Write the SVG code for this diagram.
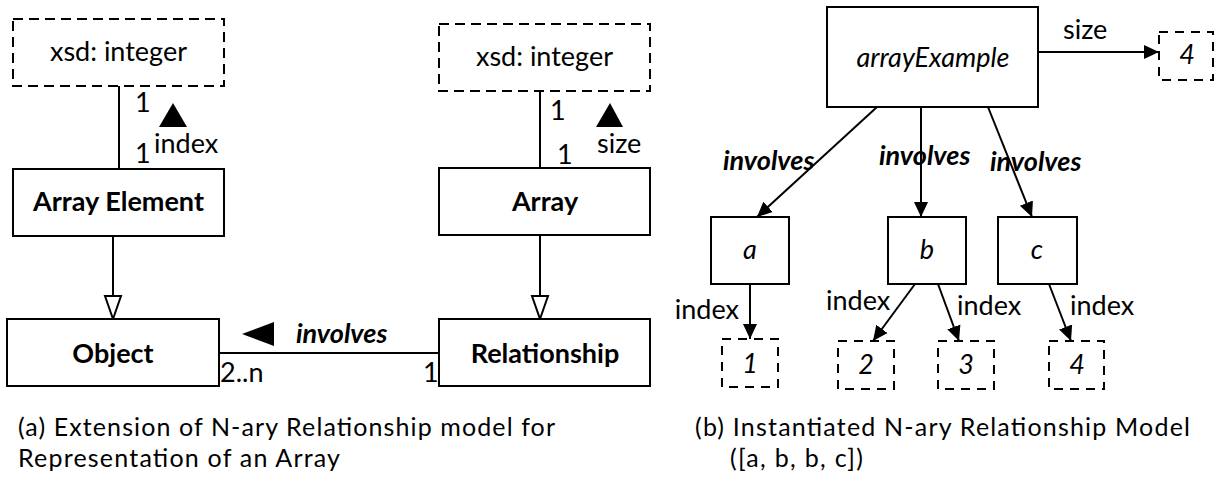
<svg xmlns="http://www.w3.org/2000/svg" width="1215" height="478" viewBox="0 0 1215 478">
<style>
text{font-family:Lato,"Open Sans","Liberation Sans",sans-serif;font-size:27px;fill:#000}
.c{text-anchor:middle}
.b{font-weight:bold}
.i{font-style:italic}
.cap{font-size:25px}
.box{fill:#fff;stroke:#000;stroke-width:2}
.dash{fill:#fff;stroke:#000;stroke-width:2;stroke-dasharray:10 6}
.sdash{fill:#fff;stroke:#000;stroke-width:2;stroke-dasharray:9 7}
.ln{fill:none;stroke:#000;stroke-width:2}
.arr{fill:none;stroke:#000;stroke-width:2;marker-end:url(#ah)}
.gen{fill:none;stroke:#000;stroke-width:2;marker-end:url(#hollow)}
</style>
<defs>
<marker id="ah" markerUnits="userSpaceOnUse" markerWidth="16" markerHeight="16" viewBox="0 0 16 16" refX="15" refY="8" orient="auto">
<path d="M0,1 L15,8 L0,15 z" fill="#000"/>
</marker>
<marker id="hollow" markerUnits="userSpaceOnUse" markerWidth="26" markerHeight="20" viewBox="0 0 26 20" refX="24" refY="10" orient="auto">
<path d="M1,2 L24,10 L1,18 z" fill="#fff" stroke="#000" stroke-width="2"/>
</marker>
</defs>

<g id="connectors">
<line class="ln" x1="119" y1="86" x2="119" y2="169"/>
<line class="gen" x1="113" y1="236" x2="113" y2="319"/>
<line class="ln" x1="219" y1="353" x2="439" y2="353"/>
<line class="ln" x1="540" y1="91" x2="540" y2="168"/>
<line class="gen" x1="540" y1="235" x2="540" y2="319"/>
<line class="arr" x1="1038" y1="52" x2="1159" y2="52"/>
<line class="arr" x1="877" y1="107" x2="757" y2="217"/>
<line class="arr" x1="921" y1="107" x2="921" y2="217"/>
<line class="arr" x1="988" y1="107" x2="1032" y2="217"/>
<line class="arr" x1="750" y1="284" x2="750" y2="339"/>
<line class="arr" x1="915" y1="284" x2="873" y2="341"/>
<line class="arr" x1="938" y1="284" x2="959" y2="341"/>
<line class="arr" x1="1049" y1="284" x2="1071" y2="341"/>
<polygon points="159,127 187,127 173,103" fill="#000"/>
<polygon points="596,127 623,127 610,103" fill="#000"/>
<polygon points="242,334 274,322 274,346" fill="#000"/>
<text x="135" y="112">1</text>
<text x="135" y="163">1</text>
<text x="154" y="153">index</text>
<text x="550" y="120">1</text>
<text x="557" y="164">1</text>
<text x="597" y="153">size</text>
<text x="296" y="343" class="b i">involves</text>
<text x="220" y="382">2..n</text>
<text x="423" y="382">1</text>
<text x="1063" y="39">size</text>
<text x="723" y="170" class="b i">involves</text>
<text x="879" y="165" class="b i">involves</text>
<text x="990" y="171" class="b i">involves</text>
<text x="739" y="319" text-anchor="end">index</text>
<text x="826" y="310">index</text>
<text x="957" y="315">index</text>
<text x="1070" y="315">index</text>
</g>

<g id="xsd-integer-left">
<rect class="dash" x="13" y="19" width="211" height="67"/>
<text x="118.5" y="61" class="c">xsd: integer</text>
</g>
<g id="array-element">
<rect class="box" x="13" y="169" width="211" height="67"/>
<text x="118.5" y="211" class="c b">Array Element</text>
</g>
<g id="object">
<rect class="box" x="7" y="319" width="212" height="67"/>
<text x="113" y="363" class="c b">Object</text>
</g>
<g id="xsd-integer-right">
<rect class="dash" x="439" y="24" width="211" height="67"/>
<text x="544.5" y="66" class="c">xsd: integer</text>
</g>
<g id="array">
<rect class="box" x="439" y="168" width="211" height="67"/>
<text x="545" y="211" class="c b">Array</text>
</g>
<g id="relationship">
<rect class="box" x="439" y="319" width="211" height="67"/>
<text x="545" y="363" class="c b">Relationship</text>
</g>

<g id="arrayExample">
<rect class="box" x="827" y="7" width="211" height="100"/>
<text x="933" y="67" class="c i">arrayExample</text>
</g>
<g id="size-4">
<rect class="sdash" x="1159" y="32" width="54" height="48"/>
<text x="1187" y="64" class="c i">4</text>
</g>
<g id="node-a">
<rect class="box" x="711" y="217" width="78" height="67"/>
<text x="750" y="259" class="c i">a</text>
</g>
<g id="node-b">
<rect class="box" x="888" y="217" width="78" height="67"/>
<text x="927" y="259" class="c i">b</text>
</g>
<g id="node-c">
<rect class="box" x="998" y="217" width="79" height="67"/>
<text x="1037" y="259" class="c i">c</text>
</g>
<g id="idx-1">
<rect class="sdash" x="722" y="339" width="56" height="48"/>
<text x="750" y="373" class="c i">1</text>
</g>
<g id="idx-2">
<rect class="sdash" x="838" y="341" width="56" height="48"/>
<text x="866" y="374" class="c i">2</text>
</g>
<g id="idx-3">
<rect class="sdash" x="938" y="341" width="56" height="48"/>
<text x="966" y="374" class="c i">3</text>
</g>
<g id="idx-4">
<rect class="sdash" x="1049" y="341" width="55" height="48"/>
<text x="1077" y="374" class="c i">4</text>
</g>

<g id="captions">
<text x="18" y="436" class="cap" textLength="537" lengthAdjust="spacing">(a) Extension of N-ary Relationship model for</text>
<text x="18" y="467" class="cap" textLength="322" lengthAdjust="spacing">Representation of an Array</text>
<text x="695" y="436" class="cap" textLength="495" lengthAdjust="spacing">(b) Instantiated N-ary Relationship Model</text>
<text x="730" y="467" class="cap" textLength="133" lengthAdjust="spacing">([a, b, b, c])</text>
</g>
</svg>
